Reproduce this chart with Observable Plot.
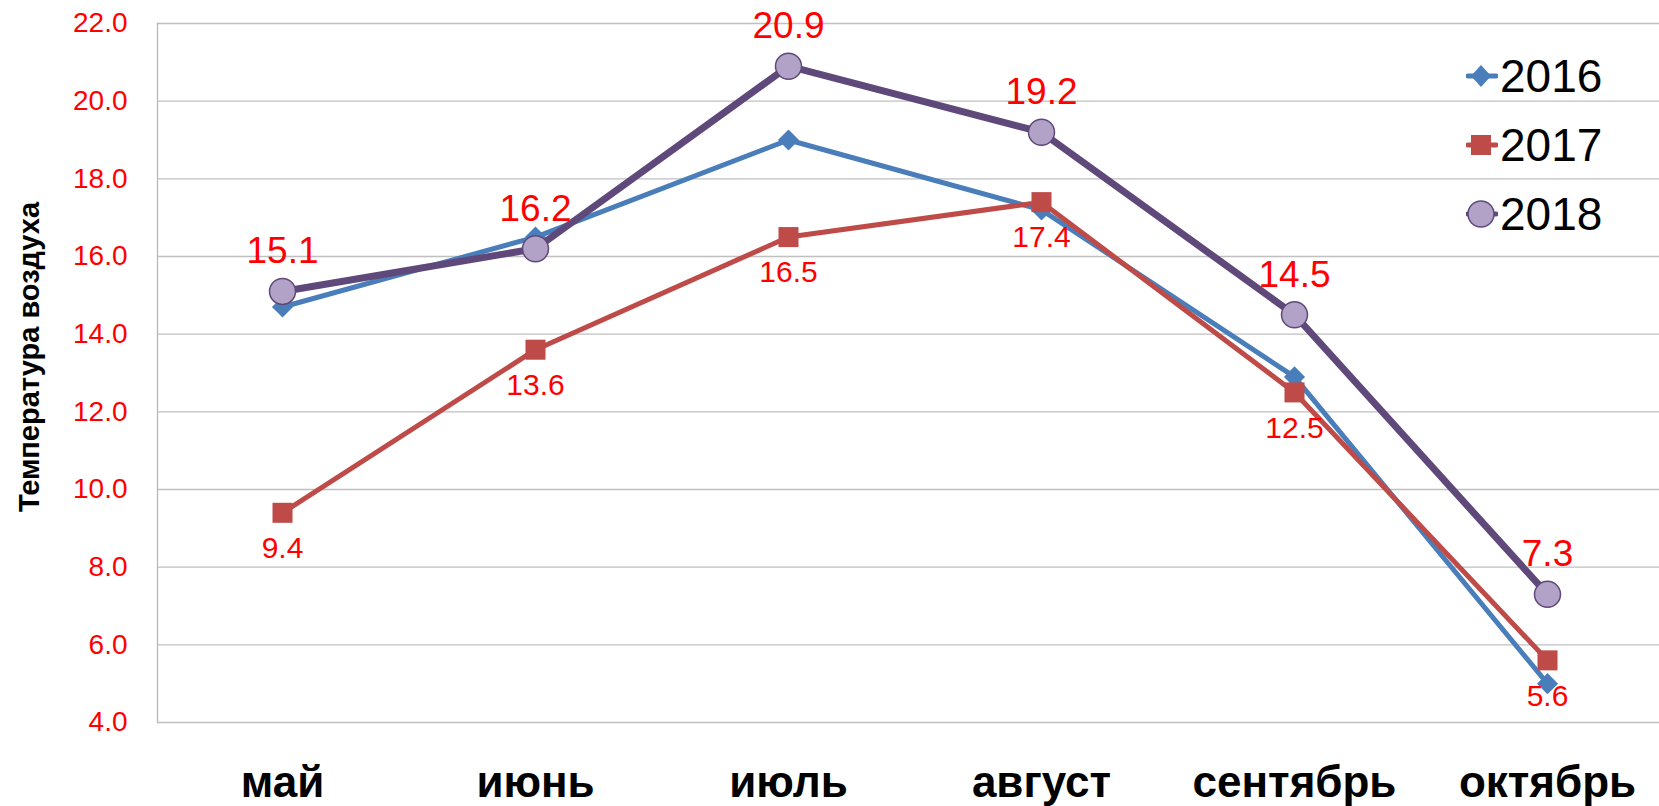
<!DOCTYPE html>
<html>
<head>
<meta charset="utf-8">
<script src="https://cdn.jsdelivr.net/npm/d3@7"></script>
<script src="https://cdn.jsdelivr.net/npm/@observablehq/plot@0.6"></script>
<style>
  html, body { margin: 0; padding: 0; background: #fff; }
  #wrap { position: relative; width: 1659px; height: 806px; overflow: hidden; font-family: "Liberation Sans", Arial, sans-serif; }
  #ytitle { position: absolute; left: 29px; top: 357px; transform: translate(-50%, -50%) rotate(-90deg); font-weight: bold; font-size: 29px; white-space: nowrap; color: #000; }
  #legend { position: absolute; left: 1466px; top: 41px; }
  .item { display: flex; align-items: center; height: 69px; font-size: 46px; color: #000; }
  .item svg { margin-right: 2px; }
</style>
</head>
<body>
<div id="wrap">
  <div id="chart"></div>
  <div id="ytitle">Температура воздуха</div>
  <div id="legend"></div>
</div>
<script>
const months = ["май", "июнь", "июль", "август", "сентябрь", "октябрь"];
const t2016 = [14.7, 16.5, 19.0, 17.2, 12.9, 5.0];
const t2017 = [9.4, 13.6, 16.5, 17.4, 12.5, 5.6];
const t2018 = [15.1, 16.2, 20.9, 19.2, 14.5, 7.3];
const years = ["2016", "2017", "2018"];
const yTicks = [4, 6, 8, 10, 12, 14, 16, 18, 20, 22];

const rows = (vals) => months.map((m, i) => ({month: m, t: vals[i]}));
const d2016 = rows(t2016), d2017 = rows(t2017), d2018 = rows(t2018);

const C16 = "#4A7EBB", C17 = "#BE4B48", C18 = "#5F497A", F18 = "#B3A2C7";

const chart = Plot.plot({
  width: 1659,
  height: 806,
  marginLeft: 157,
  marginRight: 0,
  marginTop: 23,
  marginBottom: 84,
  style: {fontFamily: "'Liberation Sans', Arial, sans-serif", background: "#fff"},
  x: {type: "point", domain: months, range: [282, 1547], padding: 0},
  y: {domain: [4, 22]},
  marks: [
    Plot.gridY(yTicks, {stroke: "#C0C0C0", strokeOpacity: 1, strokeWidth: 1.3}),
    Plot.frame({anchor: "left", stroke: "#B8B8B8", strokeWidth: 1.3}),
    Plot.axisY(yTicks, {tickSize: 0, tickPadding: 30, tickFormat: d => d.toFixed(1), fill: "#FF0000", fontSize: 28, label: null}),
    Plot.axisX({tickSize: 0, tickPadding: 43, fontSize: 44, fontWeight: "bold", fill: "#000", label: null}),
    Plot.line(d2016, {x: "month", y: "t", stroke: C16, strokeWidth: 5, strokeLinejoin: "round"}),
    Plot.dot(d2016, {x: "month", y: "t", symbol: "diamond2", r: 9.5, fill: C16, stroke: null}),
    Plot.line(d2017, {x: "month", y: "t", stroke: C17, strokeWidth: 5, strokeLinejoin: "round"}),
    Plot.dot(d2017, {x: "month", y: "t", symbol: "square", r: 11.3, fill: C17, stroke: null}),
    Plot.line(d2018, {x: "month", y: "t", stroke: C18, strokeWidth: 7, strokeLinejoin: "round"}),
    Plot.dot(d2018, {x: "month", y: "t", symbol: "circle", r: 13, fill: F18, stroke: C18, strokeWidth: 1.5}),
    Plot.text(d2017, {x: "month", y: "t", text: d => d.t.toFixed(1), lineAnchor: "top", dy: 24, fill: "#FF0000", fontSize: 30}),
    Plot.text(d2018, {x: "month", y: "t", text: d => d.t.toFixed(1), lineAnchor: "bottom", dy: -28, fill: "#FF0000", fontSize: 37})
  ]
});
document.getElementById("chart").appendChild(chart);

// legend
const legendSpecs = [
  {year: years[0], line: C16, shape: `<path d="M15,4 L25,15 L15,26 L5,15 Z" fill="${C16}"/>`},
  {year: years[1], line: C17, shape: `<rect x="5" y="5" width="20" height="20" fill="${C17}"/>`},
  {year: years[2], line: C18, shape: `<circle cx="15" cy="15" r="13" fill="${F18}" stroke="${C18}" stroke-width="1.5"/>`}
];
const lg = document.getElementById("legend");
for (const s of legendSpecs) {
  const div = document.createElement("div");
  div.className = "item";
  div.innerHTML = `<svg width="32" height="30" viewBox="0 0 32 30"><line x1="2" y1="15" x2="30" y2="15" stroke="${s.line}" stroke-width="5" stroke-linecap="round"/>${s.shape}</svg><span>${s.year}</span>`;
  lg.appendChild(div);
}
</script>
</body>
</html>
